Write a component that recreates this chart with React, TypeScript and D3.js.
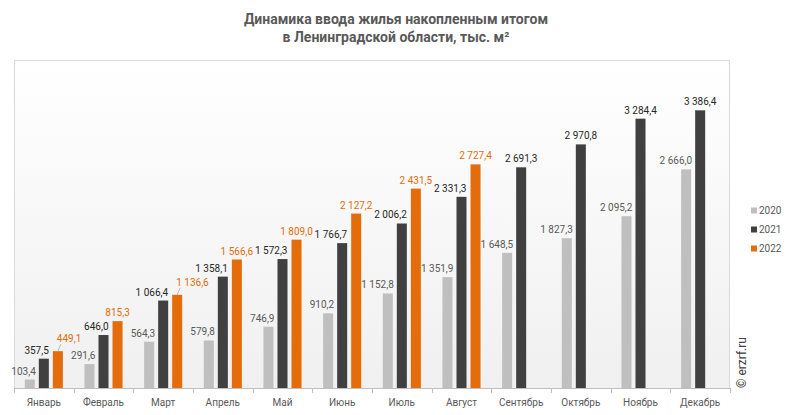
import React from "react";
import * as d3 from "d3";

const months = ["Январь","Февраль","Март","Апрель","Май","Июнь","Июль","Август","Сентябрь","Октябрь","Ноябрь","Декабрь"];
const seriesNames = ["2020","2021","2022"];
const values2020 = [103.4,291.6,564.3,579.8,746.9,910.2,1152.8,1351.9,1648.5,1827.3,2095.2,2666.0];
const values2021 = [357.5,646.0,1066.4,1358.1,1572.3,1766.7,2006.2,2331.3,2691.3,2970.8,3284.4,3386.4];
const values2022 = [449.1,815.3,1136.6,1566.6,1809.0,2127.2,2431.5,2727.4,null,null,null,null];

const W = 793, H = 415;
const plot = { left: 14, top: 60, right: 730, bottom: 388 };
const colors = ["#bfbfbf", "#404040", "#e46c0a"];
const labelColors = ["#595959", "#262626", "#e46c0a"];

const fmt = (v: number) => {
  const s = v.toFixed(1);
  const [i, f] = s.split(".");
  const ii = i.replace(/\B(?=(\d{3})+(?!\d))/g, " ");
  return ii + "," + f;
};

export default function App() {
  const x0 = d3.scaleBand<string>().domain(months).range([plot.left, plot.right]).paddingInner(0).paddingOuter(0);
  const x1 = d3.scaleBand<string>().domain(seriesNames).range([0, x0.bandwidth()]).paddingInner(0.286).paddingOuter(0.77);
  const y = d3.scaleLinear().domain([0, 4000]).range([plot.bottom, plot.top]);
  const all = [values2020, values2021, values2022];
  const font = "Roboto, 'Liberation Sans', Arial, sans-serif";
  const bw = x1.bandwidth();
  const charW = 5.4;

  const barX = (si: number, mi: number) => (x0(months[mi]) as number) + (x1(seriesNames[si]) as number);

  type Lbl = { key: string; x: number; y: number; anchor: string; text: string; color: string; leader?: [number, number, number, number] };
  const labels: Lbl[] = [];
  months.forEach((m, mi) => {
    const v0 = values2020[mi], v1 = values2021[mi], v2 = values2022[mi];
    labels.push({ key: `a${mi}`, x: barX(0, mi) + bw + 1, y: y(v0) - 5, anchor: "end", text: fmt(v0), color: labelColors[0] });
    const d1x = v2 != null ? barX(1, mi) + bw : barX(1, mi) + bw / 2;
    const d1y = y(v1) - 5;
    labels.push({ key: `b${mi}`, x: d1x, y: d1y, anchor: v2 != null ? "end" : "middle", text: fmt(v1), color: labelColors[1] });
    if (v2 != null) {
      const t = fmt(v2);
      const cx = barX(2, mi) + bw / 2;
      const w = t.length * charW;
      let lx = cx, ly = y(v2) - 5, anchor = "middle";
      let leader: [number, number, number, number] | undefined;
      const overlapX = cx - w / 2 < d1x + 1;
      const overlapY = Math.abs(ly - d1y) < 11;
      if (overlapX && overlapY) {
        lx = barX(2, mi) + 4;
        ly = y(v2) - 9;
        anchor = "start";
        leader = [lx + 4, ly + 2, cx, y(v2)];
      }
      labels.push({ key: `c${mi}`, x: lx, y: ly, anchor, text: t, color: labelColors[2], leader });
    }
  });

  return (
    <svg width={W} height={H} style={{ position: "absolute", left: 0, top: 0, fontFamily: font }}>
      <defs>
        <linearGradient id="bg" x1="0" y1="0" x2="0" y2="1">
          <stop offset="0%" stopColor="#ffffff" />
          <stop offset="100%" stopColor="#f0f0f0" />
        </linearGradient>
      </defs>
      <rect x={0} y={0} width={W} height={H} fill="#ffffff" />
      <rect x={plot.left} y={plot.top} width={plot.right - plot.left} height={plot.bottom - plot.top} fill="url(#bg)" />
      <line x1={plot.left} x2={plot.right} y1={plot.top + 0.5} y2={plot.top + 0.5} stroke="#d9d9d9" />
      <line x1={plot.left + 0.5} x2={plot.left + 0.5} y1={plot.top} y2={plot.bottom} stroke="#d9d9d9" />
      <line x1={plot.right - 0.5} x2={plot.right - 0.5} y1={plot.top} y2={plot.bottom} stroke="#d9d9d9" />

      <text x={396} y={24} textAnchor="middle" fontSize={14} fontWeight="bold" fill="#595959">Динамика ввода жилья накопленным итогом</text>
      <text x={396} y={42} textAnchor="middle" fontSize={14} fontWeight="bold" fill="#595959">в Ленинградской области, тыс. м²</text>

      {all.map((vals, si) =>
        vals.map((v, mi) => {
          if (v == null) return null;
          return (
            <rect key={`b${si}-${mi}`} x={barX(si, mi)} y={y(v)} width={bw} height={plot.bottom - y(v)} fill={colors[si]} />
          );
        })
      )}
      {labels.map((l) => (
        <g key={l.key}>
          {l.leader && (
            <line x1={l.leader[0]} y1={l.leader[1]} x2={l.leader[2]} y2={l.leader[3]} stroke="#a6a6a6" strokeWidth={0.75} />
          )}
          <text x={l.x} y={l.y} textAnchor={l.anchor as any} fontSize={10} fill={l.color}>{l.text}</text>
        </g>
      ))}

      <line x1={plot.left} x2={plot.right} y1={plot.bottom + 0.5} y2={plot.bottom + 0.5} stroke="#bfbfbf" />
      {d3.range(months.length + 1).map((i) => {
        const tx = Math.round(plot.left + i * x0.step()) + 0.5;
        return <line key={`t${i}`} x1={tx} x2={tx} y1={plot.bottom} y2={plot.bottom + 5} stroke="#bfbfbf" />;
      })}
      {months.map((m) => (
        <text key={m} x={(x0(m) as number) + x0.bandwidth() / 2} y={406} textAnchor="middle" fontSize={10} fill="#595959">{m}</text>
      ))}

      {seriesNames.map((s, i) => (
        <g key={s} transform={`translate(751, ${208 + i * 19})`}>
          <rect x={0} y={-0.5} width={6} height={6} fill={colors[i]} />
          <text x={8} y={6} fontSize={10} fill="#595959">{s}</text>
        </g>
      ))}

      <text transform="translate(746, 388) rotate(-90)" fontSize={12} fill="#404040">© erzrf.ru</text>
    </svg>
  );
}
